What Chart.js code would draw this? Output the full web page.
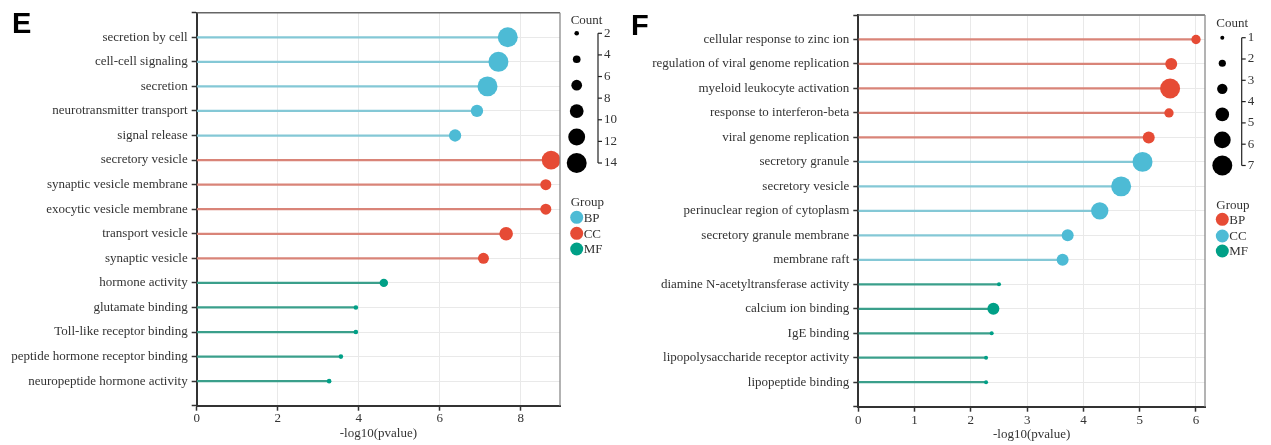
<!DOCTYPE html>
<html><head><meta charset="utf-8">
<script src="https://cdn.jsdelivr.net/npm/chart.js@4.4.1/dist/chart.umd.min.js"></script>
<style>
html,body{margin:0;padding:0;background:#fff;width:1271px;height:445px;overflow:hidden;}
.panel{position:absolute;top:0;height:445px;}
.letter{position:absolute;font-family:"Liberation Sans",Arial,sans-serif;font-weight:bold;font-size:29px;line-height:1;color:#000;}
</style></head><body>
<div class="panel" style="left:0;width:625px"><canvas id="cE" width="625" height="445"></canvas></div>
<div class="panel" style="left:625px;width:646px"><canvas id="cF" width="646" height="445"></canvas></div>
<div class="letter" style="left:12px;top:9px">E</div>
<div class="letter" style="left:631px;top:11px">F</div>
<script>
// ---------- Panel E data ----------
const categoriesE = ['secretion by cell','cell-cell signaling','secretion','neurotransmitter transport','signal release',
  'secretory vesicle','synaptic vesicle membrane','exocytic vesicle membrane','transport vesicle','synaptic vesicle',
  'hormone activity','glutamate binding','Toll-like receptor binding','peptide hormone receptor binding','neuropeptide hormone activity'];
const valuesE = [7.68,7.45,7.18,6.92,6.38, 8.75,8.62,8.62,7.64,7.08, 4.62,3.93,3.93,3.56,3.27];
const countsE = [14,14,14,8,8, 13,7,7,9,7, 5,2,2,2,2];
const groupsE = ['BP','BP','BP','BP','BP','CC','CC','CC','CC','CC','MF','MF','MF','MF','MF'];
const countLabelsE = [2,4,6,8,10,12,14];
const countDotsE = [2,4.4,6.8,9.2,11.6,14];

// ---------- Panel F data ----------
const categoriesF = ['cellular response to zinc ion','regulation of viral genome replication','myeloid leukocyte activation','response to interferon-beta','viral genome replication',
  'secretory granule','secretory vesicle','perinuclear region of cytoplasm','secretory granule membrane','membrane raft',
  'diamine N-acetyltransferase activity','calcium ion binding','IgE binding','lipopolysaccharide receptor activity','lipopeptide binding'];
const valuesF = [6.00,5.56,5.54,5.52,5.16, 5.05,4.67,4.29,3.72,3.63, 2.50,2.40,2.37,2.27,2.27];
const countsF = [3,4,7,3,4, 7,7,6,4,4, 1,4,1,1,1];
const groupsF = ['BP','BP','BP','BP','BP','CC','CC','CC','CC','CC','MF','MF','MF','MF','MF'];
const countLabelsF = [1,2,3,4,5,6,7];
const countDotsF = [1,2.2,3.4,4.6,5.8,7];

const groupNames = ['BP','CC','MF'];
const RED = '#E64B35', BLUE = '#4DBBD5', TEAL = '#00A087';
const LRED = '#d98478', LBLUE = '#84c8d6', LTEAL = '#3a9f8b';

const SERIF = '"Liberation Serif","Times New Roman",serif';
const TXT = '#333';

const framePlugin = {
  id: 'frame',
  afterDraw(chart) {
    const {ctx, chartArea: a} = chart;
    ctx.save();
    ctx.strokeStyle = '#666'; ctx.lineWidth = 1.5;
    ctx.beginPath(); ctx.moveTo(a.left, a.top); ctx.lineTo(a.right, a.top); ctx.stroke();
    ctx.strokeStyle = '#8a8a8a'; ctx.lineWidth = 1.3;
    ctx.beginPath(); ctx.moveTo(a.right, a.top); ctx.lineTo(a.right, a.bottom); ctx.stroke();
    ctx.restore();
  }
};

const sideLegendPlugin = {
  id: 'sideLegend',
  afterDraw(chart, args, o) {
    const ctx = chart.ctx;
    ctx.save();
    ctx.font = '13px ' + SERIF;
    ctx.fillStyle = TXT;
    ctx.textBaseline = 'middle';
    ctx.textAlign = 'left';
    ctx.fillText('Count', o.dotX - 6, o.countY);
    const nd = o.dots.length;
    o.dots.forEach((c, i) => {
      const y = o.y0 + (o.y1 - o.y0) * i / (nd - 1);
      ctx.beginPath(); ctx.arc(o.dotX, y, o.size(c), 0, Math.PI * 2);
      ctx.fillStyle = '#000'; ctx.fill();
    });
    ctx.strokeStyle = '#222'; ctx.lineWidth = 1.2;
    ctx.beginPath(); ctx.moveTo(o.bx, o.y0); ctx.lineTo(o.bx, o.y1); ctx.stroke();
    const nl = o.labels.length;
    ctx.fillStyle = TXT;
    o.labels.forEach((l, i) => {
      const y = o.y0 + (o.y1 - o.y0) * i / (nl - 1);
      ctx.beginPath(); ctx.moveTo(o.bx, y); ctx.lineTo(o.bx + 4, y); ctx.stroke();
      ctx.fillText(String(l), o.bx + 6, y);
    });
    ctx.fillText('Group', o.dotX - 6, o.groupY);
    o.groupYs.forEach((y, i) => {
      const g = groupNames[i];
      ctx.beginPath(); ctx.arc(o.dotX, y, 6.5, 0, Math.PI * 2);
      ctx.fillStyle = o.colors[g]; ctx.fill();
      ctx.fillStyle = TXT;
      ctx.fillText(g, o.dotX + 7, y + 1);
    });
    ctx.restore();
  }
};

function makePanel(id, cfg) {
  const axisLabels = ['', ...cfg.categories, ''];
  const barData = [null, ...cfg.values, null];
  const barColors = ['#000', ...cfg.groups.map(g => cfg.lineColors[g]), '#000'];
  const bubbles = groupNames.map(g => ({
    type: 'bubble',
    label: g,
    order: 0,
    data: cfg.categories.map((c, i) => ({x: cfg.values[i], y: c, r: cfg.size(cfg.counts[i]), g: cfg.groups[i]}))
      .filter(d => d.g === g),
    backgroundColor: cfg.colors[g],
    borderWidth: 0,
    hoverBorderWidth: 0,
    clip: {left: false, top: false, bottom: false, right: 0}
  }));
  const font = {family: SERIF, size: 13};
  new Chart(document.getElementById(id), {
    type: 'bar',
    data: {
      labels: axisLabels,
      datasets: [
        {type: 'bar', order: 5, data: barData, backgroundColor: barColors, barThickness: 1.6, borderWidth: 0, grouped: false},
        ...bubbles
      ]
    },
    options: {
      indexAxis: 'y',
      responsive: false,
      animation: false,
      devicePixelRatio: 1,
      events: [],
      layout: {padding: {left: 0, right: cfg.padRight, top: cfg.top, bottom: 0}},
      plugins: {
        legend: {display: false}, tooltip: {enabled: false},
        sideLegend: cfg.legend
      },
      scales: {
        x: {
          type: 'linear', position: 'bottom', min: 0, max: cfg.xMax,
          ticks: {stepSize: cfg.step, includeBounds: false, font, color: TXT, padding: cfg.xTickPad, maxRotation: 0},
          grid: {color: '#e9e9e9', lineWidth: 1, tickColor: '#333', tickLength: 5, tickWidth: 1.5},
          border: {color: '#333', width: 2},
          title: {display: true, text: '-log10(pvalue)', font, color: TXT, padding: {top: 0, bottom: cfg.titlePad}},
          afterFit: s => { s.height = cfg.xAxisH; }
        },
        y: {
          type: 'category', position: 'left', offset: false,
          ticks: {font, color: TXT, padding: 4, autoSkip: false},
          grid: {offset: false, color: '#e9e9e9', lineWidth: 1, tickColor: '#333', tickLength: 5, tickWidth: 1.5},
          border: {color: '#333', width: 2},
          afterFit: s => { s.width = cfg.yAxisW; }
        }
      }
    },
    plugins: [framePlugin, sideLegendPlugin]
  });
}

const sizeE = c => 2.3 + 0.64 * (c - 2);
const sizeF = c => 2 + 1.33 * (c - 1);

makePanel('cE', {
  categories: categoriesE, values: valuesE, counts: countsE, groups: groupsE,
  colors: {BP: BLUE, CC: RED, MF: TEAL}, lineColors: {BP: LBLUE, CC: LRED, MF: LTEAL},
  size: sizeE, xMax: 8.97, step: 2, top: 12.7, padRight: 65, yAxisW: 196.7, xAxisH: 39.3, titlePad: 4, xTickPad: 0,
  legend: {size: sizeE, dots: countDotsE, labels: countLabelsE, dotX: 576.7, countY: 21, y0: 33.3, y1: 163,
    bx: 598, groupY: 203, groupYs: [217.3, 233.3, 249], colors: {BP: BLUE, CC: RED, MF: TEAL}}
});
makePanel('cF', {
  categories: categoriesF, values: valuesF, counts: countsF, groups: groupsF,
  colors: {BP: RED, CC: BLUE, MF: TEAL}, lineColors: {BP: LRED, CC: LBLUE, MF: LTEAL},
  size: sizeF, xMax: 6.16, step: 1, top: 15, padRight: 66, yAxisW: 233.3, xAxisH: 38.3, titlePad: 2.5, xTickPad: 1,
  legend: {size: sizeF, dots: countDotsF, labels: countLabelsF, dotX: 597.3, countY: 24, y0: 37.7, y1: 165.5,
    bx: 616.7, groupY: 206, groupYs: [219.3, 236, 251], colors: {BP: RED, CC: BLUE, MF: TEAL}}
});
</script>
</body></html>
